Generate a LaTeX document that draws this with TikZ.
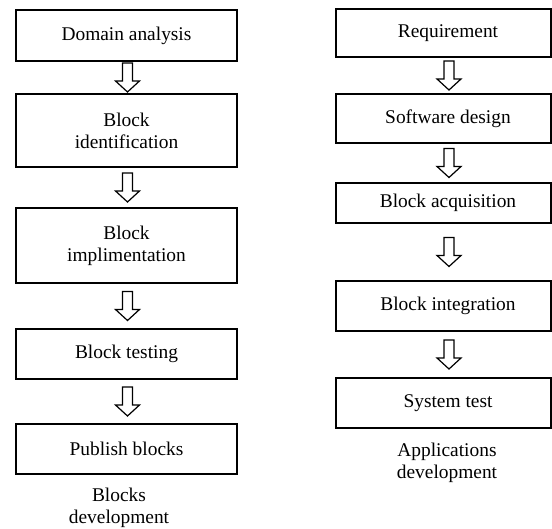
\documentclass[tikz,border=0pt]{standalone}
\usepackage{fontspec}
\setmainfont{Liberation Serif}
\usetikzlibrary{calc}
\newcommand\blockarrow[3]{%
  \draw[barrow] let \p1=($(#1.south)!0.5!(#2.north)+(#3,0)$) in
    (\x1-5pt,\y1+14.5pt) -- (\x1+5pt,\y1+14.5pt) -- (\x1+5pt,\y1-3.5pt)
    -- (\x1+12pt,\y1-3.5pt) -- (\x1,\y1-14.5pt) -- (\x1-12pt,\y1-3.5pt)
    -- (\x1-5pt,\y1-3.5pt) -- cycle;}
\begin{document}
\begin{tikzpicture}[x=1pt,y=-1pt,
  txt/.style={font=\fontsize{19.4}{22}\selectfont, align=center},
  box/.style={draw, line width=1.5pt, inner sep=0pt, txt},
  lbox/.style={box, minimum width=221pt},
  rbox/.style={box, minimum width=215pt},
  rlab/.style={txt, xshift=4.5pt},
  barrow/.style={draw, line width=1.2pt, fill=white, line join=miter}]
\useasboundingbox (0,0) rectangle (552,529);
% left column
\node[lbox, minimum height=51pt] (a1) at (126.5,35.5) {Domain analysis};
\node[lbox, minimum height=73pt] (a2) at (126.5,130.5) {Block\\identification};
\node[lbox, minimum height=75pt] (a3) at (126.5,245.5) {Block\\implimentation};
\node[lbox, minimum height=50pt] (a4) at (126.5,354) {Block testing};
\node[lbox, minimum height=50pt] (a5) at (126.5,449) {Publish blocks};
\node[txt] (capL) at (119,508) {Blocks\\development};
\blockarrow{a1}{a2}{1}
\blockarrow{a2}{a3}{1}
\blockarrow{a3}{a4}{1}
\blockarrow{a4}{a5}{1}
% right column
\node[rbox, minimum height=48pt, label={[rlab]center:Requirement}] (b1) at (443.5,33) {};
\node[rbox, minimum height=49pt, label={[rlab]center:Software design}] (b2) at (443.5,118.5) {};
\node[rbox, minimum height=40pt, label={[rlab]center:Block acquisition}] (b3) at (443.5,203) {};
\node[rbox, minimum height=50pt, label={[rlab]center:Block integration}] (b4) at (443.5,306) {};
\node[rbox, minimum height=50pt, label={[rlab]center:System test}] (b5) at (443.5,403) {};
\node[txt] (capR) at (447,462.5) {Applications\\development};
\blockarrow{b1}{b2}{5.5}
\blockarrow{b2}{b3}{5.5}
\blockarrow{b3}{b4}{5.5}
\blockarrow{b4}{b5}{5.5}
\end{tikzpicture}
\end{document}
